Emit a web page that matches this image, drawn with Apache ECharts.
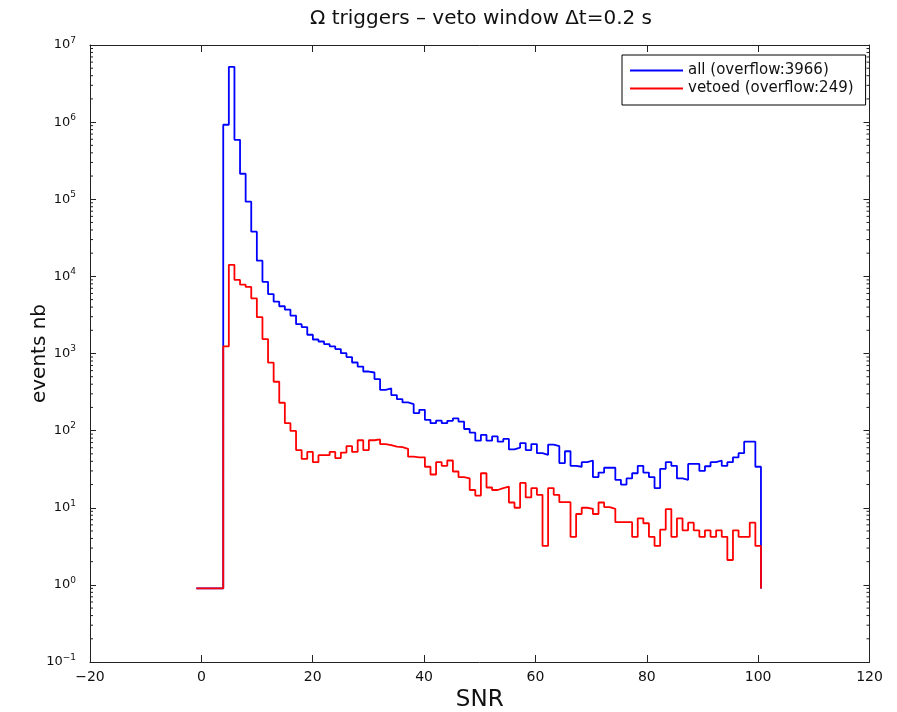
<!DOCTYPE html>
<html>
<head>
<meta charset="utf-8">
<script src="https://cdn.jsdelivr.net/npm/echarts@6/dist/echarts.min.js"></script>
<style>
html,body{margin:0;padding:0;background:#fff;}
#chart{width:897px;height:712px;}
</style>
</head>
<body>
<div id="chart"></div>
<script>
// ---- data ----
const xTicks = [-20, 0, 20, 40, 60, 80, 100, 120];
const yTickExponents = [-1, 0, 1, 2, 3, 4, 5, 6, 7];
const binStart = 3.93;      // left edge of first filled bin (SNR)
const binWidth = 1.006;     // histogram bin width (SNR)
const leadX = -0.9;         // where the empty-bin floor starts
const floorValue = 0.9;     // level used for empty bins
// counts per bin, starting at binStart
const allCounts = [
  925000, 5200000, 590000, 214000, 93000, 38000, 16000, 8500, 5900, 4700,
  4100, 3700, 3100, 2400, 2200, 1750, 1520, 1430, 1320, 1240,
  1140, 1010, 900, 764, 677, 584, 567, 466, 338, 352,
  289, 256, 232, 221, 169, 186, 138, 125, 135, 125,
  134, 144, 131, 105, 94, 74, 88, 74, 84, 72,
  78, 57, 60, 69, 56, 67, 51, 48.5, 66, 63,
  38, 54, 35, 34, 39, 41, 25, 28.6, 33, 33,
  23, 20, 24, 28, 35, 28.6, 25, 18, 32, 39,
  35, 24, 23, 37, 37, 30, 34.5, 39, 41, 35,
  39, 45, 51, 72, 72, 34
];
const vetoedCounts = [
  1240, 14100, 9000, 7800, 7300, 5200, 2960, 1540, 760, 430,
  230, 125, 99, 56, 43, 53, 39, 48, 48, 53,
  44, 52, 63, 53, 75, 56, 75, 77, 67, 65,
  62, 61, 58, 46, 45, 45, 34, 27, 39, 35,
  41, 29.5, 25, 24, 17, 14.4, 28, 18.3, 17, 18,
  18.8, 11.7, 10, 21, 13.6, 18, 14.7, 3.2, 18, 14.7,
  11.8, 11.8, 4.2, 8.3, 10, 9.7, 8.3, 11.7, 10.2, 9.7,
  6.5, 6.5, 6.5, 4.2, 7.3, 6.3, 4.2, 3.2, 5.2, 9.6,
  4.2, 7.3, 5.1, 6.4, 5.1, 4.2, 5.1, 4.2, 5.1, 4.2,
  2.1, 5.1, 4.2, 4.2, 6.4, 3.2
];
const legendNames = ['all (overflow:3966)', 'vetoed (overflow:249)'];

function stepData(counts) {
  const pts = [[leadX, floorValue]];
  counts.forEach((c, i) => pts.push([binStart + binWidth * i, c]));
  pts.push([binStart + binWidth * counts.length, floorValue]);
  return pts;
}

// minor log tick positions (2..9 x 10^n)
const minorTicks = [];
for (let e = -1; e < 7; e++) for (let m = 2; m <= 9; m++) minorTicks.push([0, m * Math.pow(10, e)]);

const FONT = 'DejaVu Sans, Verdana, sans-serif';
const chart = echarts.init(document.getElementById('chart'), null, {renderer: 'canvas'});

const supFmt = v => {
  const e = Math.round(Math.log10(v));
  return '{b|10}{s|' + (e < 0 ? '\u2212' + (-e) : e) + '}';
};

chart.setOption({
  animation: false,
  backgroundColor: '#fff',
  title: {
    text: '\u03A9 triggers \u2013 veto window \u0394t=0.2 s',
    left: 476, top: 4, textAlign: 'center',
    textStyle: {fontFamily: FONT, fontSize: 20, fontWeight: 'normal', color: '#111'}
  },
  legend: {
    data: legendNames,
    orient: 'vertical',
    left: 622, top: 55,
    borderColor: '#000', borderWidth: 1,
    padding: [8, 12, 9, 8],
    itemGap: 3, itemWidth: 53, itemHeight: 1.8,
    icon: 'rect',
    textStyle: {fontFamily: FONT, fontSize: 15, color: '#111'},
    backgroundColor: '#fff'
  },
  grid: {left: 90, right: 27.5, top: 45, bottom: 50, containLabel: false, outerBoundsMode: 'none'},
  xAxis: [{
    type: 'value', min: -20, max: 120, interval: 20,
    name: 'SNR', nameLocation: 'middle', nameGap: 25,
    nameTextStyle: {fontFamily: FONT, fontSize: 23, color: '#111'},
    axisLine: {show: true, onZero: false, lineStyle: {color: '#222', width: 1}},
    axisTick: {show: true, inside: true, length: 7, lineStyle: {color: '#222'}},
    axisLabel: {fontFamily: FONT, fontSize: 14, color: '#111', margin: 8,
      formatter: v => String(v).replace('-', '\u2212')},
    splitLine: {show: false}
  }, {
    type: 'value', position: 'top', min: -20, max: 120, interval: 20,
    axisLine: {show: true, onZero: false, lineStyle: {color: '#222', width: 1}},
    axisTick: {show: true, inside: true, length: 7, lineStyle: {color: '#222'}},
    axisLabel: {show: false}, splitLine: {show: false}
  }],
  yAxis: [{
    type: 'log', logBase: 10, min: 0.1, max: 1e7,
    name: 'events nb', nameLocation: 'middle', nameGap: 40, nameRotate: 90,
    nameMoveOverlap: false,
    nameTextStyle: {fontFamily: FONT, fontSize: 20, color: '#111'},
    axisLine: {show: true, onZero: false, lineStyle: {color: '#222', width: 1}},
    axisTick: {show: true, inside: true, length: 6, lineStyle: {color: '#222'}},
    axisLabel: {fontFamily: FONT, color: '#111', margin: 14, formatter: supFmt,
      rich: {b: {fontSize: 13, fontFamily: FONT, color: '#111'},
             s: {fontSize: 9, fontFamily: FONT, color: '#111', padding: [0, 0, 9, 0]}}},
    splitLine: {show: false}
  }, {
    type: 'log', logBase: 10, min: 0.1, max: 1e7, position: 'right',
    axisLine: {show: true, onZero: false, lineStyle: {color: '#222', width: 1}},
    axisTick: {show: true, inside: true, length: 6, lineStyle: {color: '#222'}},
    axisLabel: {show: false}, splitLine: {show: false}
  }],
  series: [{
    type: 'custom', name: 'minorTicks', silent: true, clip: false,
    xAxisIndex: 0, yAxisIndex: 0,
    data: minorTicks,
    renderItem: (params, api) => {
      const y = api.coord([0, api.value(1)])[1];
      const cs = params.coordSys;
      const st = {stroke: '#222', lineWidth: 1};
      return {type: 'group', children: [
        {type: 'line', shape: {x1: cs.x, y1: y, x2: cs.x + 3, y2: y}, style: st},
        {type: 'line', shape: {x1: cs.x + cs.width - 3, y1: y, x2: cs.x + cs.width, y2: y}, style: st}
      ]};
    }
  }, {
    type: 'line', name: legendNames[0], step: 'end', data: stepData(allCounts),
    showSymbol: false, symbol: 'none', lineStyle: {color: '#0000ff', width: 1.8},
    itemStyle: {color: '#0000ff'}
  }, {
    type: 'line', name: legendNames[1], step: 'end', data: stepData(vetoedCounts),
    showSymbol: false, symbol: 'none', lineStyle: {color: '#ff0000', width: 1.8},
    itemStyle: {color: '#ff0000'}
  }]
});
</script>
</body>
</html>
